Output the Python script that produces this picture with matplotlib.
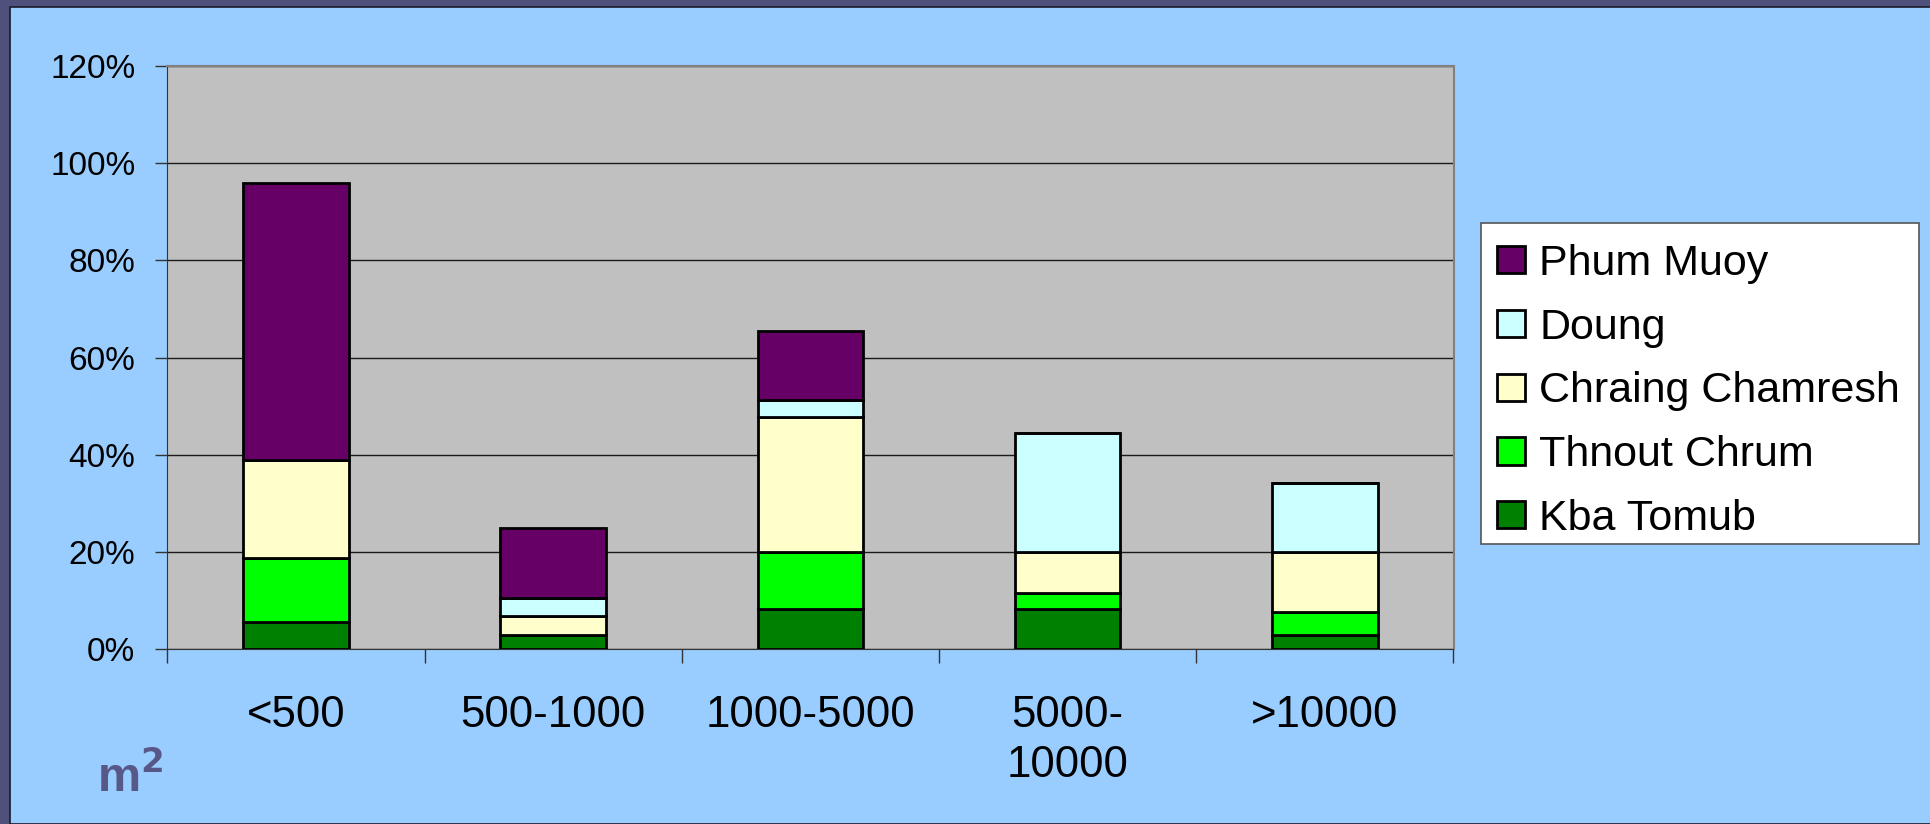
import matplotlib
matplotlib.use("Agg")
import matplotlib.pyplot as plt
from matplotlib.patches import Rectangle
from matplotlib.ticker import PercentFormatter, FixedLocator
import numpy as np

plt.rcParams['font.family'] = ['Liberation Sans', 'DejaVu Sans']

categories = ['<500', '500-1000', '1000-5000', '5000-\n10000', '>10000']
kba_tomub = [5.5, 2.9, 8.3, 8.3, 2.8]
thnout_chrum = [13.3, 0.0, 11.6, 3.2, 4.9]
chraing_chamresh = [20.2, 3.8, 27.9, 8.4, 12.2]
doung = [0.0, 3.9, 3.4, 24.6, 14.2]
phum_muoy = [57.0, 14.4, 14.3, 0.0, 0.0]

series = [
    ('Kba Tomub', kba_tomub, '#008000'),
    ('Thnout Chrum', thnout_chrum, '#00FF00'),
    ('Chraing Chamresh', chraing_chamresh, '#FFFFCC'),
    ('Doung', doung, '#CCFFFF'),
    ('Phum Muoy', phum_muoy, '#660066'),
]

W, H = 1931, 824
fig = plt.figure(figsize=(W / 100, H / 100), dpi=100)
fig.patch.set_facecolor('#50507C')

# light-blue slide panel
panel = Rectangle((10 / W, 0), 1 - 10 / W, 1 - 7 / H, transform=fig.transFigure,
                  facecolor='#99CCFF', edgecolor='#1A1A2A', linewidth=1.2, zorder=-10)
fig.patches.append(panel)

# legend box
legbox = Rectangle((1481 / W, 1 - 544 / H), (1919 - 1481) / W, (544 - 223) / H,
                   transform=fig.transFigure, facecolor='white', edgecolor='#555555',
                   linewidth=1.2, zorder=-5)
fig.patches.append(legbox)

ax = fig.add_axes([167.4 / W, 1 - 649 / H, (1453.5 - 167.4) / W, (649 - 66) / H])
ax.set_zorder(1)
ax.set_facecolor('#C0C0C0')

x = np.arange(len(categories))
bottom = np.zeros(len(categories))
handles = []
for name, vals, col in series:
    v = np.array(vals)
    b = ax.bar(x, v, width=0.41, bottom=bottom, color=col, edgecolor='black',
               linewidth=2.0, label=name, zorder=3)
    handles.append(b)
    bottom = bottom + v

ax.set_xlim(-0.5, len(categories) - 0.5)
ax.set_ylim(0, 120)
ax.yaxis.set_major_locator(FixedLocator([0, 20, 40, 60, 80, 100, 120]))
ax.yaxis.set_major_formatter(PercentFormatter(decimals=0))
ax.yaxis.grid(True, color='#1A1A1A', linewidth=1.0, zorder=1)
ax.set_axisbelow(True)

ax.set_xticks(x)
ax.set_xticklabels(categories)
for t in ax.get_xticklabels():
    t.set_linespacing(1.3)
ax.set_xticks(np.arange(len(categories) + 1) - 0.5, minor=True)
ax.tick_params(axis='x', which='major', length=0, pad=33, labelsize=31.5)
ax.tick_params(axis='x', which='minor', length=10, width=1, color='#333333', direction='out')
ax.tick_params(axis='y', length=9, width=1, color='#333333', pad=14, labelsize=24)

for s in ['top', 'right']:
    ax.spines[s].set_color('#808080')
    ax.spines[s].set_linewidth(1.5)
ax.spines['left'].set_color('#333333')
ax.spines['bottom'].set_color('#333333')

leg = fig.legend(handles[::-1], [s[0] for s in series][::-1],
                 loc='upper left', bbox_to_anchor=(1497 / W, 1 - 244 / H),
                 borderaxespad=0, fontsize=31, frameon=False,
                 handlelength=0.66, handleheight=0.6, handletextpad=0.32,
                 labelspacing=0.55, borderpad=0)

fig.text(97 / W, 1 - 792 / H, 'm$\\mathbf{^2}$', fontsize=35, fontweight='bold',
         color='#585888', ha='left', va='baseline')

fig.savefig('out.png', dpi=100, facecolor=fig.get_facecolor())
